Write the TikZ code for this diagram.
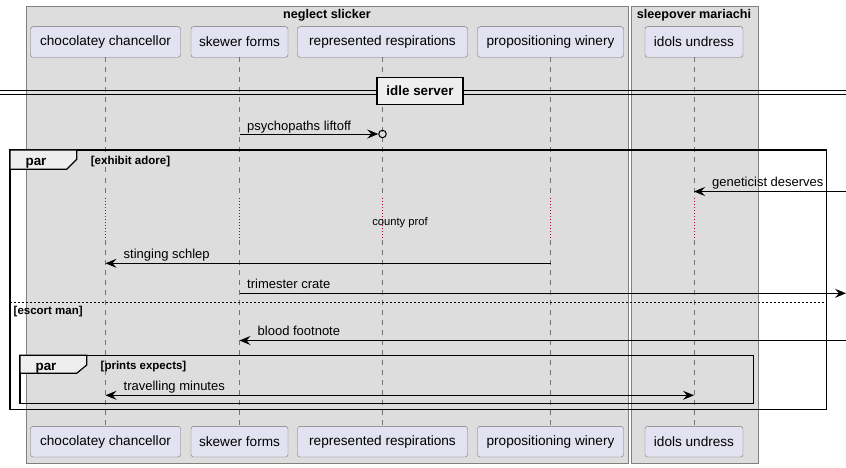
\documentclass[tikz,border=0pt]{standalone}
\usepackage{fontspec}
\setmainfont{Liberation Sans}
\usetikzlibrary{arrows.meta}
\definecolor{boxgrey}{HTML}{DDDDDD}
\definecolor{partfill}{HTML}{E2E2F0}
\definecolor{tabfill}{HTML}{EEEEEE}
\definecolor{delayred}{HTML}{A80036}
\tikzset{
  part/.style={draw=black!55, fill=partfill, rounded corners=2.5pt, minimum height=30.6pt, inner sep=0pt, font=\fontsize{13.6}{15}\selectfont},
  life/.style={draw=black!55, dash pattern=on 5pt off 5pt},
  delay/.style={draw=delayred, dash pattern=on 1pt off 2pt},
  msg/.style={draw=black, line width=0.9pt, -{Stealth[length=11pt,width=9pt,inset=4pt]}},
  msglabel/.style={font=\fontsize{13}{15}\selectfont, anchor=base west, inner sep=0pt},
  grouptitle/.style={font=\bfseries\fontsize{12.6}{14}\selectfont, inner sep=0pt},
  frame/.style={draw=black, line width=1.5pt},
  tab/.style={draw=black, line width=1.2pt, fill=tabfill},
  guard/.style={font=\bfseries\fontsize{11.5}{13}\selectfont, anchor=west, inner sep=0pt},
}
\begin{document}
\begin{tikzpicture}[x=1pt,y=-1pt]
  \useasboundingbox (0,0) rectangle (846,468);

  % Boxes
  \draw[draw=black!50, fill=boxgrey] (26,6) rectangle (628.3,463.3);
  \draw[draw=black!50, fill=boxgrey] (630.7,6) rectangle (758.3,463.3);
  \node[grouptitle, anchor=base] (ns) at (327,19) {neglect slicker};
  \node[grouptitle, anchor=base] (sm) at (694,19) {sleepover mariachi};

  % Participants
  \node[part, minimum width=150pt] (cc) at (105.5,42) {chocolatey chancellor};
  \node[part, minimum width=97pt] (sf) at (239.5,42) {skewer forms};
  \node[part, minimum width=170pt] (rr) at (382.5,42) {represented respirations};
  \node[part, minimum width=146pt] (pw) at (550.5,42) {propositioning winery};
  \node[part, minimum width=98pt] (iu) at (694,42) {idols undress};
  \node[part, minimum width=150pt] (cc2) at (105.5,441.7) {chocolatey chancellor};
  \node[part, minimum width=97pt] (sf2) at (239.5,441.7) {skewer forms};
  \node[part, minimum width=170pt] (rr2) at (382.5,441.7) {represented respirations};
  \node[part, minimum width=146pt] (pw2) at (550.5,441.7) {propositioning winery};
  \node[part, minimum width=98pt] (iu2) at (694,441.7) {idols undress};

  % Rows
  \coordinate (edge) at (846,0);
  \coordinate (d1) at (0,198);
  \coordinate (d2) at (0,240);
  \coordinate (m1) at (0,134);
  \coordinate (m2) at (0,191.5);
  \coordinate (m3) at (0,263.3);
  \coordinate (m4) at (0,293.3);
  \coordinate (m5) at (0,340.5);
  \coordinate (m6) at (0,395.3);

  % Lifelines
  \draw[life] (cc) -- (cc |- d1);
  \draw[life] (sf) -- (sf |- d1);
  \draw[life] (rr) -- (rr |- d1);
  \draw[life] (pw) -- (pw |- d1);
  \draw[life] (iu) -- (iu |- d1);
  \draw[delay] (cc |- d1) -- (cc |- d2);
  \draw[delay] (sf |- d1) -- (sf |- d2);
  \draw[delay] (rr |- d1) -- (rr |- d2);
  \draw[delay] (pw |- d1) -- (pw |- d2);
  \draw[delay] (iu |- d1) -- (iu |- d2);
  \draw[life] (cc |- d2) -- (cc2);
  \draw[life] (sf |- d2) -- (sf2);
  \draw[life] (rr |- d2) -- (rr2);
  \draw[life] (pw |- d2) -- (pw2);
  \draw[life] (iu |- d2) -- (iu2);
  \node[font=\fontsize{11.2}{13}\selectfont, inner sep=0pt, anchor=base] (cp) at (400,225) {county prof};

  % Divider
  \draw[line width=1pt] (0,90.5) -- (846,90.5);
  \draw[line width=1pt] (0,94.5) -- (846,94.5);
  \node[draw=black, line width=1.5pt, fill=tabfill, minimum width=86pt, minimum height=26.6pt, inner sep=0pt, font=\bfseries\fontsize{13.4}{15}\selectfont] (is) at (420,91) {idle server};

  % Messages
  \node[circle, draw=black, line width=1pt, inner sep=0pt, minimum size=7.5pt] (circ) at (rr |- m1) {};
  \draw[msg] (sf |- m1) -- (circ);
  \node[msglabel] (l1) at (247,130.5) {psychopaths liftoff};
  \draw[msg] (edge |- m2) -- (iu |- m2);
  \node[msglabel] (l2) at (712,186.5) {geneticist deserves};
  \draw[msg] (pw |- m3) -- (cc |- m3);
  \node[msglabel] (l3) at (123.5,258.5) {stinging schlep};
  \draw[msg] (sf |- m4) -- (edge |- m4);
  \node[msglabel] (l4) at (247,288.5) {trimester crate};
  \draw[msg] (edge |- m5) -- (sf |- m5);
  \node[msglabel] (l5) at (257.5,335.5) {blood footnote};
  \draw[msg, {Stealth[length=11pt,width=9pt,inset=4pt]}-{Stealth[length=11pt,width=9pt,inset=4pt]}] (cc |- m6) -- (iu |- m6);
  \node[msglabel] (l6) at (123.5,390.5) {travelling minutes};

  % Outer par
  \draw[frame] (10,150) rectangle (826.3,409.3);
  \draw[tab] (10,150) -- (76.7,150) -- (76.7,159.3) -- (66.7,169.3) -- (10,169.3) -- cycle;
  \node[font=\bfseries\fontsize{13.4}{15}\selectfont, inner sep=0pt, anchor=base] (p1) at (36,165) {par};
  \node[guard, anchor=base west] (g1) at (90.7,164.5) {[exhibit adore]};
  \draw[line width=0.9pt, dash pattern=on 2pt off 2pt] (10,302.3) -- (826.3,302.3);
  \node[guard, anchor=base west] (g2) at (13.5,314.5) {[escort man]};

  % Inner par
  \draw[frame] (20,355.3) rectangle (753.3,403.3);
  \draw[tab] (20,355.3) -- (86.7,355.3) -- (86.7,365) -- (76.7,373.3) -- (20,373.3) -- cycle;
  \node[font=\bfseries\fontsize{13.4}{15}\selectfont, inner sep=0pt, anchor=base] (p2) at (46,370) {par};
  \node[guard, anchor=base west] (g3) at (100.5,369.5) {[prints expects]};
\end{tikzpicture}
\end{document}
